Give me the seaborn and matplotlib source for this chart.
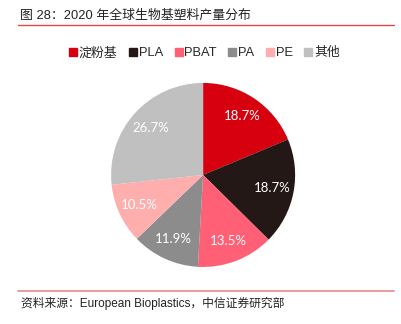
import matplotlib
matplotlib.use("Agg")
import matplotlib.pyplot as plt
from matplotlib.lines import Line2D
import seaborn as sns

categories = ["淀粉基", "PLA", "PBAT", "PA", "PE", "其他"]
shares = [18.7, 18.7, 13.5, 11.9, 10.5, 26.7]
colors = ["#D7000F", "#231815", "#FF6075", "#8C8C8C", "#FFAEAE", "#C0C0C0"]
title = "图 28：2020 年全球生物基塑料产量分布"
source = "资料来源：European Bioplastics，中信证券研究部"

sns.set_theme(style="white")
plt.rcParams["font.family"] = ["Liberation Sans", "Noto Sans CJK SC", "DejaVu Sans"]

fig = plt.figure(figsize=(4.01, 3.24), dpi=100)
fig.patch.set_facecolor("white")

ax = fig.add_axes([0.277, 0.176, 0.459, 0.568])
palette = sns.color_palette(colors)
wedges, _, autotexts = ax.pie(
    shares, colors=palette, startangle=90, counterclock=False,
    autopct=lambda p: f"{p:.1f}%", pctdistance=0.77,
    textprops=dict(color="white", fontsize=9.5, family=["Lato", "DejaVu Sans"]),
    wedgeprops=dict(linewidth=0),
)
for t, v in zip(autotexts, shares):
    t.set_text(f"{v:.1f}%")
ax.set_xlim(-1, 1)
ax.set_ylim(-1, 1)
ax.set_aspect("equal")
ax.axis("off")

# header and footer
fig.text(0.05, 0.952, title, fontsize=9.3, color="#222222", va="center", ha="left")
fig.add_artist(Line2D([0.045, 0.982], [0.922, 0.922], color="#E04848", lw=1.0))
fig.add_artist(Line2D([0.045, 0.982], [0.101, 0.101], color="#E88A8A", lw=1.2))
fig.text(0.052, 0.064, source, fontsize=8.5, color="#222222", va="center", ha="left")

handles = [plt.Line2D([], [], marker="s", linestyle="", markersize=6,
                      markerfacecolor=c, markeredgecolor=c) for c in colors]
fig.legend(handles, categories, loc="center", bbox_to_anchor=(0.51, 0.836), ncol=6,
           frameon=False, fontsize=9.3, handlelength=0.6, handletextpad=0.15,
           columnspacing=0.9, borderpad=0)

fig.savefig("out.png", dpi=100, facecolor="white")
